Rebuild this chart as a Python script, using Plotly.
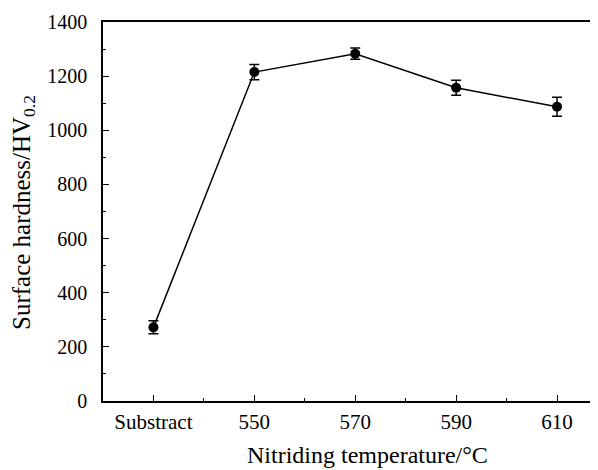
import plotly.graph_objects as go

categories = ["Substract", "550", "570", "590", "610"]
hardness = [272, 1215, 1283, 1157, 1087]
errors = [24, 28, 21, 28, 35]

x_pos = list(range(len(categories)))

# page is rendered with an 8px body margin, so figure is sized/offset to compensate
W, H = 590, 462
L, T, B = 95, 14, 69
plot_w = W - L
plot_h = H - T - B

fig = go.Figure()
fig.add_trace(go.Scatter(
    x=x_pos, y=hardness,
    mode="lines+markers",
    line=dict(color="black", width=1.5),
    marker=dict(color="black", size=10),
    error_y=dict(type="data", array=errors, visible=True, color="black", thickness=1.5, width=5),
    showlegend=False,
))

font = "Liberation Serif, Times New Roman, serif"
fig.update_layout(
    width=W, height=H,
    margin=dict(l=L, r=0, t=T, b=B, autoexpand=False),
    plot_bgcolor="white", paper_bgcolor="white",
    font=dict(family=font, size=20, color="black"),
    xaxis=dict(
        range=[-0.5, 4.406],
        tickmode="array", tickvals=x_pos, ticktext=categories,
        ticks="inside", ticklen=6, tickwidth=1.2, tickcolor="black",
        minor=dict(dtick=0.5, tick0=0, ticks="inside", ticklen=3, tickcolor="black", tickwidth=1),
        showline=True, linecolor="black", linewidth=1.5, mirror=True,
        showgrid=False, zeroline=False,
        tickfont=dict(family=font, size=21),
        ticklabelstandoff=1,
    ),
    yaxis=dict(
        range=[0, 1400],
        tickmode="linear", tick0=0, dtick=200,
        ticks="inside", ticklen=6, tickwidth=1.2, tickcolor="black",
        minor=dict(dtick=100, ticks="inside", ticklen=3, tickcolor="black", tickwidth=1),
        showline=True, linecolor="black", linewidth=1.5, mirror=False,
        showgrid=False, zeroline=False,
        tickfont=dict(family=font, size=20),
        ticklabelstandoff=10,
    ),
    annotations=[
        dict(
            text="Nitriding temperature/°C", xref="paper", yref="paper",
            x=(359 - L) / plot_w, y=-(447 - (T + plot_h)) / plot_h,
            xanchor="center", yanchor="middle",
            showarrow=False, font=dict(family=font, size=24, color="black"),
        ),
        dict(
            text="Surface hardness/HV<sub>0.2</sub>", xref="paper", yref="paper",
            x=(15 - L) / plot_w, y=1 - (205 - T) / plot_h,
            xanchor="center", yanchor="middle", textangle=-90,
            showarrow=False, font=dict(family=font, size=25, color="black"),
        ),
    ],
)

fig.write_html("out.html")
